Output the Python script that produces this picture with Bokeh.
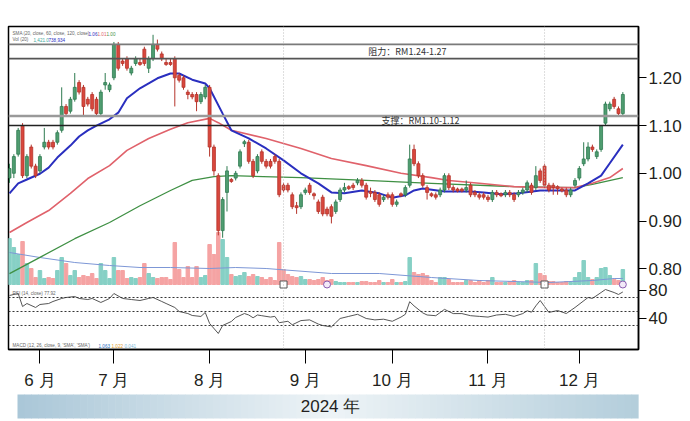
from bokeh.plotting import figure
from bokeh.models import Range1d, FixedTicker, Label, ColumnDataSource, Span
from bokeh.layouts import column
from bokeh.embed import file_html
from bokeh.resources import INLINE

# ---------------- data ----------------
month_ticks = [7, 24, 46, 68, 88, 110, 131]
month_labels = ["6 月", "7 月", "8 月", "9 月", "10 月", "11 月", "12 月"]
price_ticks = [0.80, 0.90, 1.00, 1.10, 1.20]
rsi_ticks = [80, 40]
resistance = [1.24, 1.27]
support = [1.10, 1.12]
rsi_levels = [70, 50, 30]
event_days = [63, 123]
div_days = [73, 141]

opens = [0.99, 1.00, 1.04, 1.10, 0.995, 1.055, 1.015, 1.005, 1.055, 1.065,
         1.065, 1.065, 1.09, 1.14, 1.13, 1.155, 1.19, 1.18, 1.155, 1.165,
         1.155, 1.125, 1.185, 1.175, 1.20, 1.27, 1.235, 1.24, 1.21, 1.23,
         1.232, 1.26, 1.22, 1.24, 1.27, 1.25, 1.232, 1.232, 1.24, 1.205,
         1.20, 1.17, 1.165, 1.165, 1.15, 1.16, 1.18, 1.055, 0.995, 0.88,
         0.96, 0.987, 0.99, 1.015, 1.062, 1.065, 1.025, 1.005, 1.045, 1.025,
         1.025, 1.035, 1.025, 0.975, 0.975, 0.955, 0.932, 0.93, 0.96, 0.975,
         0.957, 0.94, 0.95, 0.925, 0.93, 0.92, 0.945, 0.965, 0.972, 0.975,
         0.98, 0.985, 0.975, 0.962, 0.96, 0.955, 0.945, 0.955, 0.955, 0.935,
         0.957, 0.955, 0.975, 1.05, 1.02, 0.995, 0.97, 0.957, 0.955, 0.955,
         0.965, 0.995, 0.97, 0.967, 0.967, 0.965, 0.975, 0.96, 0.955, 0.955,
         0.95, 0.945, 0.96, 0.957, 0.955, 0.96, 0.955, 0.955, 0.96, 0.965,
         0.975, 0.97, 1.005, 1.015, 0.975, 0.975, 0.972, 0.967, 0.965, 0.955,
         0.975, 0.99, 1.02, 1.03, 1.055, 1.035, 1.05, 1.105, 1.135, 1.155,
         1.135, 1.125]
highs = [1.02, 1.04, 1.095, 1.105, 1.04, 1.06, 1.02, 1.04, 1.095, 1.07,
         1.07, 1.09, 1.18, 1.145, 1.16, 1.21, 1.195, 1.185, 1.16, 1.17,
         1.16, 1.175, 1.21, 1.19, 1.275, 1.275, 1.24, 1.245, 1.225, 1.245,
         1.24, 1.265, 1.245, 1.29, 1.28, 1.255, 1.24, 1.24, 1.245, 1.21,
         1.205, 1.175, 1.17, 1.17, 1.17, 1.185, 1.185, 1.06, 1.00, 0.95,
         1.015, 0.99, 1.005, 1.05, 1.07, 1.07, 1.03, 1.04, 1.05, 1.03,
         1.03, 1.04, 1.03, 0.98, 0.98, 0.96, 0.94, 0.96, 0.97, 0.98,
         0.96, 0.945, 0.955, 0.93, 0.935, 0.945, 0.97, 0.98, 0.975, 0.98,
         0.99, 0.99, 0.98, 0.97, 0.965, 0.96, 0.955, 0.96, 0.96, 0.945,
         0.96, 0.975, 1.06, 1.06, 1.025, 1.00, 0.975, 0.96, 0.96, 0.97,
         1.00, 1.00, 0.975, 0.97, 0.97, 0.985, 0.98, 0.965, 0.96, 0.96,
         0.955, 0.965, 0.965, 0.96, 0.965, 0.965, 0.96, 0.965, 0.97, 0.985,
         0.98, 1.015, 1.01, 1.02, 0.98, 0.98, 0.975, 0.97, 0.97, 0.97,
         0.99, 1.015, 1.065, 1.065, 1.06, 1.05, 1.10, 1.15, 1.15, 1.16,
         1.14, 1.17]
lows = [0.98, 0.99, 1.035, 0.99, 0.99, 1.01, 0.99, 1.00, 1.05, 1.05,
        1.05, 1.06, 1.085, 1.12, 1.125, 1.15, 1.165, 1.12, 1.14, 1.13,
        1.12, 1.12, 1.175, 1.17, 1.195, 1.215, 1.225, 1.215, 1.205, 1.225,
        1.225, 1.225, 1.21, 1.235, 1.255, 1.235, 1.225, 1.225, 1.14, 1.19,
        1.175, 1.155, 1.155, 1.13, 1.145, 1.155, 1.035, 0.995, 0.87, 0.865,
        0.92, 0.98, 0.985, 1.01, 1.055, 1.02, 0.99, 1.00, 1.02, 1.01,
        1.01, 1.02, 0.95, 0.96, 0.96, 0.925, 0.915, 0.925, 0.955, 0.955,
        0.945, 0.915, 0.91, 0.91, 0.895, 0.915, 0.94, 0.96, 0.965, 0.965,
        0.975, 0.97, 0.945, 0.95, 0.94, 0.93, 0.94, 0.945, 0.93, 0.93,
        0.95, 0.95, 0.97, 1.015, 0.99, 0.97, 0.945, 0.95, 0.945, 0.95,
        0.96, 0.965, 0.96, 0.96, 0.96, 0.96, 0.95, 0.95, 0.945, 0.945,
        0.94, 0.94, 0.95, 0.95, 0.95, 0.95, 0.94, 0.95, 0.955, 0.96,
        0.955, 0.965, 0.98, 0.97, 0.96, 0.955, 0.955, 0.96, 0.95, 0.95,
        0.97, 0.985, 1.015, 1.025, 1.045, 1.03, 1.045, 1.10, 1.13, 1.135,
        1.12, 1.12]
closes = [1.01, 1.035, 1.09, 0.995, 1.035, 1.015, 0.995, 1.035, 1.065, 1.055,
          1.055, 1.085, 1.14, 1.125, 1.155, 1.18, 1.17, 1.14, 1.145, 1.135,
          1.125, 1.17, 1.19, 1.185, 1.27, 1.22, 1.23, 1.22, 1.22, 1.24,
          1.228, 1.23, 1.24, 1.27, 1.26, 1.24, 1.228, 1.228, 1.20, 1.195,
          1.18, 1.165, 1.16, 1.15, 1.165, 1.18, 1.055, 1.005, 0.88, 0.945,
          1.005, 0.983, 1.00, 1.045, 1.066, 1.025, 0.995, 1.035, 1.025, 1.015,
          1.015, 1.025, 0.955, 0.965, 0.965, 0.93, 0.928, 0.955, 0.965, 0.96,
          0.953, 0.92, 0.915, 0.915, 0.91, 0.94, 0.965, 0.97, 0.968, 0.97,
          0.985, 0.975, 0.95, 0.958, 0.945, 0.935, 0.95, 0.95, 0.935, 0.94,
          0.953, 0.97, 1.03, 1.02, 0.995, 0.975, 0.96, 0.953, 0.95, 0.965,
          0.995, 0.97, 0.965, 0.963, 0.963, 0.97, 0.955, 0.955, 0.95, 0.95,
          0.945, 0.96, 0.955, 0.953, 0.96, 0.955, 0.945, 0.96, 0.965, 0.98,
          0.96, 0.995, 0.985, 0.975, 0.965, 0.97, 0.968, 0.963, 0.955, 0.965,
          0.985, 1.01, 1.03, 1.055, 1.05, 1.045, 1.10, 1.145, 1.145, 1.14,
          1.125, 1.165]
# volume, thousand shares
volume = [4600, 3700, 3000, 4300, 2100, 1600, 700, 1400, 600, 700,
          600, 1400, 2700, 2100, 900, 1400, 700, 900, 800, 1100,
          600, 2100, 1400, 600, 2700, 1400, 1400, 600, 700, 600,
          700, 2100, 1100, 700, 600, 700, 700, 500, 4200, 1500,
          700, 1800, 700, 1800, 700, 900, 4000, 3000, 5200, 4500,
          2700, 1000, 800, 900, 1200, 800, 1000, 800, 700, 500,
          700, 400, 4200, 1500, 1000, 800, 700, 800, 500, 500,
          400, 500, 700, 400, 500, 300, 200, 200, 200, 200,
          200, 300, 300, 200, 200, 400, 200, 200, 500, 200,
          200, 300, 2700, 1200, 1000, 1100, 900, 400, 200, 700,
          700, 500, 200, 200, 200, 400, 400, 200, 400, 200,
          400, 700, 200, 200, 200, 300, 400, 200, 200, 400,
          400, 2100, 1100, 900, 300, 300, 200, 200, 300, 200,
          700, 1200, 2400, 700, 500, 700, 1600, 1700, 900, 500,
          400, 1500]
vol_ma_x = [0, 7, 15, 23, 30, 37, 46, 52, 59, 74, 85, 97, 108, 124, 134, 139, 141]
vol_ma = [3200, 2700, 2200, 1900, 1700, 1700, 1600, 1700, 1600, 1100, 1100, 700, 400, 200, 400, 600, 600]

ma20_x = [0, 2, 4, 7, 9, 11, 14, 16, 18, 20, 23, 25, 27, 30, 34, 37, 39, 42, 45, 46,
          49, 51, 55, 59, 63, 67, 71, 74, 77, 81, 85, 88, 91, 93, 95, 100, 106, 109,
          113, 117, 122, 127, 130, 133, 136, 138, 141]
ma20 = [0.958, 0.979, 0.987, 0.999, 1.012, 1.033, 1.058, 1.077, 1.090, 1.100, 1.113,
        1.127, 1.157, 1.178, 1.199, 1.209, 1.209, 1.196, 1.188, 1.178, 1.125, 1.090,
        1.073, 1.052, 1.027, 1.000, 0.979, 0.960, 0.958, 0.964, 0.958, 0.949, 0.954,
        0.964, 0.968, 0.962, 0.962, 0.960, 0.956, 0.958, 0.964, 0.964, 0.964, 0.979,
        0.995, 1.021, 1.060]
ma60_x = [0, 4, 9, 14, 18, 23, 27, 32, 37, 41, 46, 48, 51, 59, 67, 74, 82, 90, 97,
          101, 108, 116, 124, 130, 134, 138, 141]
ma60 = [0.876, 0.897, 0.922, 0.958, 0.989, 1.016, 1.048, 1.073, 1.092, 1.106, 1.115,
        1.106, 1.090, 1.073, 1.052, 1.031, 1.016, 1.000, 0.991, 0.985, 0.979, 0.972,
        0.970, 0.970, 0.979, 0.991, 1.010]
ma120_x = [0, 7, 15, 23, 30, 37, 42, 47, 51, 67, 82, 97, 116, 130, 134, 141]
ma120 = [0.790, 0.824, 0.863, 0.897, 0.932, 0.964, 0.985, 0.993, 0.995, 0.991, 0.985,
         0.979, 0.972, 0.970, 0.977, 0.991]

rsi_x = [0, 2, 3, 4, 6, 7, 9, 10, 12, 13, 15, 16, 18, 19, 21, 22, 23, 24, 26, 28,
         30, 32, 33, 35, 36, 38, 39, 41, 42, 44, 45, 46, 48, 49, 51, 52, 54, 55, 56,
         57, 58, 60, 61, 62, 64, 65, 67, 69, 71, 72, 74, 75, 76, 78, 80, 82, 84, 86,
         88, 90, 91, 92, 93, 95, 96, 98, 100, 102, 104, 106, 108, 110, 112, 114, 116,
         118, 119, 120, 121, 122, 124, 126, 128, 130, 133, 134, 136, 137, 139, 140, 141]
rsi = [72.9, 75.7, 57.1, 61.4, 55.7, 60.0, 61.4, 64.3, 68.6, 70.0, 71.4, 68.6, 67.1,
       68.6, 62.9, 65.7, 68.6, 75.7, 68.6, 67.1, 65.7, 68.6, 70.0, 64.3, 61.4, 55.7,
       50.0, 47.1, 44.3, 42.9, 48.6, 32.9, 18.6, 30.0, 35.7, 41.4, 47.1, 45.0, 41.0,
       45.0, 44.0, 42.0, 43.0, 34.0, 36.0, 31.0, 37.0, 38.0, 32.0, 30.0, 28.0, 34.0,
       40.0, 43.0, 46.0, 40.0, 38.0, 39.0, 36.0, 42.0, 46.0, 64.0, 58.0, 48.0, 45.0,
       44.0, 53.0, 47.0, 47.0, 44.0, 43.0, 42.0, 45.0, 46.0, 43.0, 47.0, 51.0, 49.0,
       58.0, 65.7, 48.6, 51.4, 47.1, 55.7, 70.0, 68.6, 77.1, 81.4, 77.1, 74.3, 77.9]

# ---------------- figure ----------------
PRICE_LO, PRICE_HI = 0.631, 1.3074
RSI_LO, RSI_HI = -4.3, 457.1
VOL_LO, VOL_HI = -6500, 25800
FRAME_L, FRAME_B = 8, 349   # frame left / bottom in page pixels

p = figure(width=690, height=392, x_range=Range1d(-0.23, 144.6),
           y_range=Range1d(PRICE_LO, PRICE_HI), y_axis_location="right",
           output_backend="svg", toolbar_location=None, title=None,
           min_border_left=8, min_border_right=52, min_border_top=26, min_border_bottom=43)
p.extra_y_ranges = {"vol": Range1d(VOL_LO, VOL_HI), "rsi": Range1d(RSI_LO, RSI_HI)}
p.xgrid.visible = False
p.ygrid.visible = False
p.outline_line_color = "black"
p.outline_line_width = 1.5
p.outline_line_alpha = 1.0
p.background_fill_color = "white"
p.border_fill_color = "white"

def rsi_to_price(r):
    return PRICE_LO + (r - RSI_LO) / (RSI_HI - RSI_LO) * (PRICE_HI - PRICE_LO)

ticks = list(price_ticks) + [rsi_to_price(r) for r in rsi_ticks]
overrides = {t: "%.2f" % t for t in price_ticks}
for r in rsi_ticks:
    overrides[rsi_to_price(r)] = str(r)
ya = p.yaxis[0]
ya.ticker = FixedTicker(ticks=ticks)
ya.major_label_overrides = overrides
ya.major_tick_out = 8
ya.major_tick_in = 0
ya.minor_tick_out = 0
ya.minor_tick_in = 0
ya.major_label_standoff = 2
ya.major_label_text_font = "Liberation Sans"
ya.major_label_text_font_size = "17px"
ya.major_label_text_color = "#231f20"
ya.axis_line_color = "black"
ya.axis_line_width = 1.5
ya.major_tick_line_color = "black"
ya.major_tick_line_width = 1

xa = p.xaxis[0]
xa.ticker = FixedTicker(ticks=month_ticks)
xa.major_label_overrides = {t: l for t, l in zip(month_ticks, month_labels)}
xa.major_tick_out = 14
xa.major_tick_in = 0
xa.minor_tick_out = 0
xa.minor_tick_in = 0
xa.major_label_standoff = 7
xa.major_label_text_font = "Liberation Sans"
xa.major_label_text_font_size = "17px"
xa.major_label_text_color = "#231f20"
xa.axis_line_color = "black"
xa.axis_line_width = 1.5
xa.major_tick_line_color = "black"

idx = list(range(len(closes)))
up = [c >= o for o, c in zip(opens, closes)]
src = ColumnDataSource(dict(
    x=idx, o=opens, h=highs, l=lows, c=closes,
    top=[max(o, c) for o, c in zip(opens, closes)],
    bot=[min(o, c) for o, c in zip(opens, closes)],
    col=["#4f9d70" if u else "#d9473d" for u in up],
    edge=["#2f7b50" if u else "#b5342b" for u in up],
    vol=volume,
    vcol=["#86d0c5" if u else "#f5a3a3" for u in up],
))

# event verticals
for d in event_days:
    p.add_layout(Span(location=d, dimension="height", line_color="#bdbdbd",
                      line_dash="1 2", line_width=1))

# volume
p.vbar(x="x", top="vol", bottom=0, width=0.8, fill_color="vcol", line_color="vcol",
       source=src, y_range_name="vol")
p.line(vol_ma_x, vol_ma, line_color="#7d97d6", line_width=1, y_range_name="vol")

# support / resistance
p.add_layout(Span(location=resistance[1], dimension="width", line_color="#7a7a7a", line_width=1.8))
p.add_layout(Span(location=resistance[0], dimension="width", line_color="#555555", line_width=1.8))
p.add_layout(Span(location=support[1], dimension="width", line_color="#9a9a9a", line_width=2.5))
p.add_layout(Span(location=support[0], dimension="width", line_color="#222222", line_width=1.5))

# moving averages
p.line(ma120_x, ma120, line_color="#3f9044", line_width=1.3)
p.line(ma60_x, ma60, line_color="#e0626b", line_width=1.6)
p.line(ma20_x, ma20, line_color="#2a2fbf", line_width=2)

# candles
p.segment(x0="x", y0="l", x1="x", y1="h", line_color="edge", line_width=1, source=src)
p.vbar(x="x", top="top", bottom="bot", width=0.68, fill_color="col", line_color="edge",
       line_width=0.8, source=src)

# markers
mk_src = ColumnDataSource(dict(x=event_days, y=[0] * len(event_days)))
p.scatter(x="x", y="y", marker="square", size=7, fill_color="white", line_color="#555555",
          source=mk_src, y_range_name="vol")
dv_src = ColumnDataSource(dict(x=div_days, y=[0] * len(div_days)))
p.scatter(x="x", y="y", marker="circle", size=7, fill_color="#f3eaf8", line_color="#8a5bb0",
          source=dv_src, y_range_name="vol")

# RSI
for lv in rsi_levels:
    p.add_layout(Span(location=lv, dimension="width", line_color="#333333", line_width=1,
                      line_dash="2 2", y_range_name="rsi"))
p.line(rsi_x, rsi, line_color="#555555", line_width=1, y_range_name="rsi")

# text labels
p.add_layout(Label(x=82.5, y=1.255, text="阻力：RM1.24-1.27", text_font="Noto Sans CJK SC",
                   text_font_size="9px", text_color="#333333", text_baseline="middle"))
p.add_layout(Label(x=85.5, y=1.11, text="支撑：RM1.10-1.12", text_font="Noto Sans CJK SC",
                   text_font_size="9px", text_color="#333333", text_baseline="middle"))

def page_label(px, py, t, size, c="#231f20", align="left", font="Liberation Sans"):
    # position given in page pixels, converted to frame-relative screen units
    p.add_layout(Label(x=px - FRAME_L, y=FRAME_B - py, x_units="screen", y_units="screen",
                       text=t, text_font=font, text_font_size=size, text_color=c,
                       text_align=align, text_baseline="middle"))

page_label(12, 33, "SMA (20, close, 60, close, 120, close)", "4.6px", "#666666")
page_label(88, 33, "1.06", "4.6px", "#2a2fbf")
page_label(97, 33, "1.01", "4.6px", "#e0626b")
page_label(106, 33, "1.00", "4.6px", "#3f9044")
page_label(12, 39, "Vol (20)", "4.6px", "#666666")
page_label(33, 39, "1,421.0", "4.6px", "#3aa89a")
page_label(48, 39, "738,934", "4.6px", "#2a2fbf")
page_label(12, 293, "RSI (14, close)  77.92", "4.6px", "#666666")
page_label(12, 345, "MACD (12, 26, close, 9, 'SMA', 'SMA')", "4.6px", "#666666")
page_label(98, 345, "1.063", "4.6px", "#2a6fbf")
page_label(111, 345, "1.022", "4.6px", "#e09a2a")
page_label(124, 345, "0.041", "4.6px", "#7ab8d8")

page_label(585, 13, "价 格 ( RM )", "16px")

# ---------------- year band (separate strip, frame aligned with the chart) ----------------
b = figure(width=690, height=29, x_range=Range1d(8, 638), y_range=Range1d(421, 392),
           x_axis_type=None, y_axis_type=None, output_backend="svg",
           toolbar_location=None, title=None,
           min_border_left=8, min_border_right=52, min_border_top=0, min_border_bottom=0)
b.grid.visible = False
b.outline_line_color = None
b.background_fill_color = "white"
b.border_fill_color = "white"
n = 90
x0, x1 = 17, 645
lefts, rights, cols = [], [], []
cl, cm, cr = (170, 199, 216), (238, 244, 247), (178, 205, 219)
for i in range(n):
    t = (i + 0.5) / n
    if t < 0.5:
        a, bb, f = cl, cm, t / 0.5
    else:
        a, bb, f = cm, cr, (t - 0.5) / 0.5
    c = tuple(int(a[k] + (bb[k] - a[k]) * f) for k in range(3))
    lefts.append(x0 + (x1 - x0) * i / n)
    rights.append(x0 + (x1 - x0) * (i + 1) / n + 0.6)
    cols.append("#%02x%02x%02x" % c)
b.quad(left=lefts, right=rights, top=394, bottom=418, fill_color=cols, line_color=None)
b.add_layout(Label(x=330, y=406, text="2024 年", text_font="Liberation Sans",
                   text_font_size="17px", text_color="#231f20", text_align="center",
                   text_baseline="middle"))

layout = column(p, b, spacing=0)
open("out.html", "w").write(file_html(layout, INLINE))
